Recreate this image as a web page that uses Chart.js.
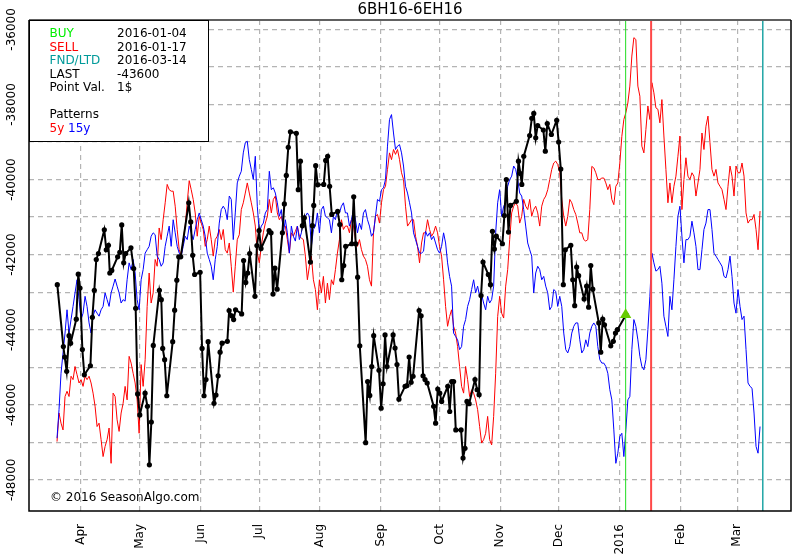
<!DOCTYPE html>
<html>
<head>
<meta charset="utf-8">
<title>6BH16-6EH16</title>
<script src="https://cdn.jsdelivr.net/npm/chart.js@4.4.1/dist/chart.umd.min.js"></script>
<style>
    html, body { margin: 0; padding: 0; background: #ffffff; }
    #seasonChart { display: block; }
</style>
</head>
<body>
<canvas id="seasonChart" width="800" height="557"></canvas>
<script>
// x values are days counted from 2015-04-01
const monthTickDays = [0, 30, 61, 91, 122, 153, 183, 214, 244, 275, 306, 335];
const monthTickLabels = ['Apr', 'May', 'Jun', 'Jul', 'Aug', 'Sep', 'Oct', 'Nov', 'Dec', '2016', 'Feb', 'Mar'];
const yGridValues = [-48000, -47000, -46000, -45000, -44000, -43000, -42000, -41000, -40000, -39000, -38000, -37000, -36000];

// Spread (black, daily closes)
const spreadDays = [
    -12.1, -9.0, -8.3, -7.3, -6.1, -5.3, -2.4, -1.4, -0.5, 0.7,
    1.7, 4.8, 5.8, 6.8, 7.8, 8.9, 11.9, 12.9, 14.0, 14.7,
    15.7, 18.7, 19.8, 20.8, 21.8, 22.8, 25.5, 26.9, 27.9, 28.9,
    30.0, 32.7, 33.9, 34.9, 35.9, 36.9, 40.0, 41.0, 41.7, 42.7,
    43.8, 46.8, 47.8, 48.9, 49.9, 50.9, 55.0, 56.0, 57.0, 58.0,
    60.8, 61.8, 62.8, 63.8, 64.9, 67.9, 68.9, 70.0, 71.0, 72.0,
    74.7, 75.6, 76.9, 77.9, 78.9, 82.0, 83.0, 84.1, 85.1, 86.1,
    88.8, 89.8, 90.9, 91.9, 96.0, 97.0, 98.0, 99.0, 100.1, 102.8,
    103.8, 104.8, 105.8, 106.9, 109.9, 110.9, 112.0, 113.0, 114.0, 117.1,
    118.1, 118.8, 119.8, 120.8, 123.9, 124.9, 125.9, 126.9, 128.0, 131.0,
    132.1, 133.1, 134.1, 135.1, 138.2, 139.2, 140.2, 141.2, 142.3, 145.3,
    146.3, 147.4, 148.4, 149.4, 152.1, 153.2, 154.2, 155.2, 156.2, 159.3,
    160.3, 161.3, 162.3, 165.4, 166.4, 167.5, 168.5, 169.5, 172.6, 173.6,
    174.6, 175.6, 176.7, 180.0, 181.0, 182.1, 183.1, 184.1, 187.2, 188.2,
    189.2, 190.2, 191.3, 194.0, 195.0, 196.0, 197.0, 198.1, 201.1, 202.2,
    203.2, 204.2, 205.2, 207.9, 209.0, 210.0, 211.0, 212.0, 215.1, 216.1,
    217.1, 218.2, 219.2, 222.2, 223.3, 224.3, 225.0, 226.0, 229.0, 230.1,
    231.1, 232.1, 233.1, 236.0, 237.0, 238.0, 240.1, 242.8, 243.8, 244.9,
    246.2, 247.2, 250.0, 251.0, 252.0, 253.0, 254.0, 256.8, 258.1, 259.1,
    260.2, 261.2, 264.3, 265.3, 266.3, 267.2, 270.4, 271.7, 272.8, 273.8,
    278.2
];
const spreadValues = [
    -42800, -44450, -44730, -45110, -44160, -44360, -43720, -42520, -42890, -44530,
    -45200, -44960, -43670, -42950, -42130, -41970, -41340, -41870, -41750, -42490,
    -42420, -42060, -41940, -41210, -42220, -41970, -41820, -42370, -43430, -45710,
    -46270, -45690, -46040, -47600, -46460, -44420, -42950, -43200, -44500, -44800,
    -45760, -44320, -43480, -42680, -42060, -42060, -40620, -41130, -42020, -42530,
    -42470, -44500, -45760, -45330, -44320, -45960, -45740, -45230, -44600, -44360,
    -44310, -43490, -43630, -43730, -43470, -43580, -42160, -42740, -42490, -41970,
    -43110, -41760, -41360, -41840, -41360, -41420, -43050, -42360, -42920, -41420,
    -40650, -39890, -39140, -38730, -38770, -40270, -39510, -41230, -41020, -42200,
    -41230, -40690, -39630, -40140, -40130, -39490, -39380, -40180, -40930, -40850,
    -41200, -42670, -42290, -41780, -41710, -40460, -41710, -42600, -44430, -47010,
    -45380, -45750, -44980, -44160, -45080, -46090, -45440, -44140, -44980, -44140,
    -44490, -44930, -45850, -45510, -45490, -44730, -45400, -45240, -43490, -43630,
    -45230, -45330, -45420, -46040, -46490, -45580, -45690, -45910, -45510, -46180,
    -45380, -45380, -46670, -46670, -47420, -47160, -45910, -45970, -45330, -45600,
    -45730, -43090, -42200, -42530, -42800, -41380, -41850, -41510, -41710, -40960,
    -40000, -41400, -40690, -40580, -39510, -39840, -40130, -39380, -38830, -38370,
    -38240, -38890, -38560, -38680, -39245, -38510, -38800, -38420, -39000, -39720,
    -42800, -41870, -41750, -42670, -43360, -42330, -42560, -43180, -42840, -43400,
    -42290, -42920, -43820, -44600, -43720, -43870, -44430, -44310, -44090, -44000,
    -43600
];

// Seasonal patterns, evenly sampled between these two days
const patternFirstDay = -12.24;
const patternLastDay = 346.6;
const red5y = [
    -46980, -46220, -46490, -46670, -45780, -45640, -45780, -45240, -45330, -44980,
    -45200, -45420, -45330, -45510, -45240, -45330, -45240, -45420, -45690, -46040,
    -46580, -46490, -46930, -47380, -47110, -46930, -46620, -47560, -45690, -45780,
    -46400, -46710, -46220, -45960, -45510, -45870, -44710, -44890, -45160, -45420,
    -45870, -46760, -44930, -45510, -44800, -43380, -42490, -43290, -43020, -42130,
    -42310, -41290, -41600, -41070, -40620, -40130, -40270, -40310, -40310, -40710,
    -41330, -41870, -42040, -41600, -41240, -40620, -40030, -40270, -40530, -40890,
    -41510, -40980, -41160, -41330, -41780, -41600, -41240, -41600, -42040, -41600,
    -41510, -41330, -41600, -41330, -41870, -41960,
    -41690, -42310, -43000, -42310, -41600, -41470, -40800, -40620, -40360, -40090,
    -40360, -40620, -40890, -41240, -41960, -42220, -41780, -41420, -41160, -40980,
    -40530, -40890, -40530, -40440, -40890, -41070, -40980, -41240, -41240, -41600,
    -41960, -41420, -41510, -41380, -41240, -41510, -41560, -41600, -42040, -42670,
    -42310, -42040, -42670, -42930, -43470, -42670, -43020, -42580, -43290, -42760,
    -43200, -42670, -42800, -42400, -41960, -41600, -41070, -41330, -41240, -41240,
    -41420, -41070, -41240, -41600, -41780, -41600, -41870, -42040, -42130, -42310,
    -42670, -42840, -41420, -40980, -40930, -41160, -40620, -40270, -40180, -39730,
    -39290, -39470, -39200, -39330, -39200, -39470, -39820, -40000, -40710, -41240,
    -41160, -41070, -41070, -41510, -41780, -42220, -41690, -41420,
    -41420, -41070, -41330, -41510, -41420, -41240, -41420, -41780, -42040, -42670,
    -43380, -43910, -43650, -43470, -43910, -44090, -44450, -44980, -45510, -45690,
    -44980, -45330, -45780, -45600, -45690, -45870, -46130, -46580, -47020, -46930,
    -46760, -46310, -46930, -47070, -46310, -45160, -43650, -43110, -43560, -43690,
    -42840, -42400, -41600, -40890, -40710, -40620, -40710, -41160, -40980, -40530,
    -40710, -40800, -40530, -40980, -40800, -40710, -40890, -41240, -40710, -40530,
    -40440, -40270, -40000, -39730, -39560, -39510, -39600, -39820, -40530, -40980,
    -41240, -40980, -40530, -40620, -40800, -40930, -41160, -41420, -41420, -41600,
    -41640, -41600, -40800, -39650, -39690, -39820, -40000, -40000, -39960, -39960,
    -40090, -40270, -40130, -40530, -40670, -40180, -40090, -39560, -38850, -38400,
    -38220, -37960, -37510, -36710, -36220, -36270, -37510, -37780, -39110, -39290,
    -38670, -38040, -38400, -37420, -37690, -38090, -38130, -38490, -37870, -38840,
    -39730, -40620, -40090, -40620, -40180, -39910, -39380, -38840, -40800, -40000,
    -39420, -39910, -40000, -39820, -39910, -40440, -40090, -39730, -38760, -39200,
    -38580, -38310, -39020, -39730, -39910, -39730, -40090, -40180, -40270, -40530,
    -40800, -40180, -39640, -39910, -40440, -39640, -39820, -39820, -39560, -39910,
    -40890, -41160, -41070, -41070, -40930, -41330, -41870, -40840
];
const blue15y = [
    -46890, -46130, -45160, -44620, -44090, -43470, -44090, -43730, -43380, -43020,
    -42670, -43200, -43730, -43560, -43110, -43380, -43820, -44090, -43640, -43470,
    -43560, -43640, -43470, -43380, -43020, -43200, -43380, -43020, -42840, -42650,
    -42840, -43020, -43290, -43200, -43240, -42670, -42220, -42400, -42130, -42490,
    -43200, -43470, -42670, -42400, -41960, -41870, -41780, -41510, -41420, -41470,
    -42040, -42130, -42310, -42220, -41780, -41510, -41240, -41780, -41070, -41420,
    -41780, -41960, -42040, -41780, -41510, -41600, -41240, -41420, -41600, -41330,
    -41070, -40890, -41070, -41240, -41510, -41960, -42130, -42310, -42670, -42130,
    -41780, -41160, -40800, -40710, -40800, -41070,
    -40440, -40530, -41600, -40890, -40090, -39910, -39780, -39290, -39020, -38980,
    -39470, -39730, -40000, -39380, -40710, -41420, -41240, -41160, -40890, -40800,
    -39780, -40270, -40220, -40360, -40620, -40980, -40800, -41420, -41070, -41420,
    -41960, -41240, -41510, -41640, -41240, -41600, -41420, -41070, -40980, -40890,
    -40980, -41780, -41330, -41240, -40890, -41420, -40800, -40710, -40980, -41020,
    -41070, -41420, -40980, -41070, -40800, -40890, -40710, -40620, -40890, -40890,
    -41240, -41070, -40800, -41070, -41420, -41160, -41330, -40890, -40800, -41070,
    -41240, -41510, -41420, -40980, -40530, -40580, -40270, -40220, -40000, -39110,
    -38400, -38270, -38760, -39200, -39110, -39070, -39290, -39640, -40180, -40360,
    -40620, -40890, -41420, -41600, -41780, -41960, -41960, -41910,
    -41380, -41510, -41420, -41600, -41510, -41690, -41870, -41960, -41780, -41420,
    -41690, -42220, -42580, -42840, -44090, -44180, -44270, -44530, -44450, -43910,
    -43730, -43380, -43200, -42930, -42670, -43020, -42840, -43110, -43070, -43290,
    -43470, -43110, -43290, -43200, -42840, -41420, -40620, -40270, -40980, -40710,
    -40620, -40180, -40000, -39910, -39640, -39730, -40000, -40360, -40440, -40800,
    -41240, -41690, -41870, -42040, -43020, -42490, -42310, -42400, -42670, -42580,
    -42840, -43020, -43470, -43380, -42930, -42980, -43380, -43110, -43380, -44090,
    -44530, -44620, -44450, -44090, -43910, -43820, -43820, -44270, -44620, -44530,
    -44270, -44450, -44090, -43910, -43820, -43910, -44450, -44800, -44890,
    -44890, -44980, -45160, -45600, -45870, -46670, -47560, -47290, -46840, -46760,
    -47380, -46670, -45870, -45780, -44530, -43730, -43910, -44270, -44710, -44980,
    -45070, -44800, -44000, -43110, -41960, -42220, -42440, -42400, -42310, -42760,
    -43640, -43910, -44180, -43110, -43470, -42670, -41780, -40980, -40710, -41510,
    -42220, -41600, -41600, -41510, -41110, -41420, -41780, -42400, -42400, -41870,
    -41330, -41160, -40800, -40800, -41330, -41960, -42040, -42130, -42220, -42310,
    -42580, -42620, -42400, -42040, -42580, -43290, -43560, -42930, -43380, -43730,
    -43640, -44530, -45420, -45510, -45560, -46220, -47110, -47290, -46580
];

// Trade markers
const buyDay = 278;    // 2016-01-04
const sellDay = 291;   // 2016-01-17
const fndDay = 348;    // 2016-03-14
const lastValue = -43600;

const infoLabels = ['BUY', 'SELL', 'FND/LTD', 'LAST', 'Point Val.'];
const infoValues = ['2016-01-04', '2016-01-17', '2016-03-14', '-43600', '1$'];
const infoColors = ['#00ee00', '#ff0000', '#009a9a', '#000000', '#000000'];

document.addEventListener('DOMContentLoaded', function() {
    const FONT = "'DejaVu Sans', Verdana, sans-serif";

    function patternPoints(values) {
        const step = (patternLastDay - patternFirstDay) / (values.length - 1);
        return values.map((v, i) => ({ x: patternFirstDay + i * step, y: v }));
    }

    const spreadPoints = spreadDays.map((d, i) => ({ x: d, y: spreadValues[i] }));

    // Chart.js paints datasets from last to first, so the spread is index 1
    // and the BUY triangle (index 0) ends up on top of everything.
    const SPREAD_INDEX = 1;

    // Vertical BUY / SELL / FND lines, drawn right after the spread line
    const markerLines = {
        id: 'markerLines',
        afterDatasetDraw(chart, args) {
            if (args.index !== SPREAD_INDEX) return;
            const { ctx, chartArea, scales } = chart;
            const lines = [
                { day: buyDay, color: '#22dd22', width: 1 },
                { day: sellDay, color: '#ff4848', width: 2 },
                { day: fndDay, color: '#20a5a5', width: 1.5 }
            ];
            ctx.save();
            lines.forEach(l => {
                const x = scales.x.getPixelForValue(l.day);
                ctx.strokeStyle = l.color;
                ctx.lineWidth = l.width;
                ctx.beginPath();
                ctx.moveTo(x, chartArea.top);
                ctx.lineTo(x, chartArea.bottom);
                ctx.stroke();
            });
            ctx.restore();
        }
    };

    // Frame, info box and copyright
    const decorations = {
        id: 'decorations',
        afterDraw(chart) {
            const { ctx, chartArea } = chart;
            const { left, right, top, bottom } = chartArea;
            ctx.save();

            ctx.lineWidth = 2;
            ctx.strokeStyle = '#606060';
            ctx.beginPath();
            ctx.moveTo(left, top);
            ctx.lineTo(right, top);
            ctx.stroke();

            ctx.lineWidth = 1.5;
            ctx.strokeStyle = '#000000';
            ctx.beginPath();
            ctx.moveTo(left, top);
            ctx.lineTo(left, bottom);
            ctx.lineTo(right, bottom);
            ctx.lineTo(right, top);
            ctx.stroke();

            // Info box
            ctx.fillStyle = '#ffffff';
            ctx.fillRect(left, top, 179, 121);
            ctx.lineWidth = 1;
            ctx.strokeStyle = '#000000';
            ctx.strokeRect(left + 0.5, top + 0.5, 179, 121);

            ctx.font = '12px ' + FONT;
            ctx.textBaseline = 'middle';
            ctx.textAlign = 'left';
            infoLabels.forEach((label, i) => {
                const y = 34 + i * 13.5;
                ctx.fillStyle = infoColors[i];
                ctx.fillText(label, 49.5, y);
                ctx.fillStyle = '#000000';
                ctx.fillText(infoValues[i], 117, y);
            });
            ctx.fillStyle = '#000000';
            ctx.fillText('Patterns', 49.5, 115);
            ctx.fillStyle = '#ff0000';
            ctx.fillText('5y', 49.5, 128.5);
            const w = ctx.measureText('5y ').width;
            ctx.fillStyle = '#0000ff';
            ctx.fillText('15y', 49.5 + w, 128.5);

            ctx.fillStyle = '#000000';
            ctx.fillText('\u00a9 2016 SeasonAlgo.com', 50, 498);
            ctx.restore();
        }
    };

    const ctx = document.getElementById('seasonChart');
    new Chart(ctx, {
        type: 'line',
        data: {
            datasets: [{
                label: 'BUY',
                data: [{ x: buyDay, y: lastValue }],
                showLine: false,
                pointStyle: 'triangle',
                pointRadius: 6.5,
                pointBorderWidth: 0,
                pointBackgroundColor: '#66cc00'
            }, {
                label: '6BH16-6EH16',
                data: spreadPoints,
                borderColor: '#000000',
                borderWidth: 2,
                pointRadius: 2.6,
                pointBorderWidth: 0,
                pointBackgroundColor: '#000000',
                tension: 0
            }, {
                label: '15y',
                data: patternPoints(blue15y),
                borderColor: '#0000ff',
                borderWidth: 1,
                pointRadius: 0,
                tension: 0
            }, {
                label: '5y',
                data: patternPoints(red5y),
                borderColor: '#ff0000',
                borderWidth: 1,
                pointRadius: 0,
                tension: 0
            }]
        },
        options: {
            responsive: false,
            animation: false,
            events: [],
            layout: { padding: { top: 0, right: 9, bottom: 0, left: 0 } },
            plugins: {
                legend: { display: false },
                tooltip: { enabled: false },
                title: {
                    display: true,
                    fullSize: false,
                    text: '6BH16-6EH16',
                    color: '#000000',
                    font: { family: FONT, size: 15, weight: 'normal', lineHeight: 1.2 },
                    padding: { top: 1, bottom: 1 }
                }
            },
            scales: {
                x: {
                    type: 'linear',
                    min: -26.54,
                    max: 362.4,
                    afterBuildTicks: scale => {
                        scale.ticks = monthTickDays.map(v => ({ value: v }));
                    },
                    afterFit: scale => { scale.height = 46; },
                    ticks: {
                        autoSkip: false,
                        minRotation: 90,
                        maxRotation: 90,
                        padding: 13,
                        color: '#000000',
                        font: { family: FONT, size: 12 },
                        callback: (value, index) => monthTickLabels[index]
                    },
                    grid: { color: '#b4b4b4', lineWidth: 1.2, drawTicks: false },
                    border: { display: false, dash: [5, 4] }
                },
                y: {
                    type: 'linear',
                    min: -48830,
                    max: -35750,
                    afterBuildTicks: scale => {
                        scale.ticks = yGridValues.map(v => ({ value: v }));
                    },
                    afterFit: scale => { scale.width = 29; },
                    ticks: {
                        autoSkip: false,
                        minRotation: 90,
                        crossAlign: 'center',
                        padding: -4,
                        color: '#000000',
                        font: { family: FONT, size: 12 },
                        callback: value => (value % 2000 === 0 ? String(value) : '')
                    },
                    grid: { color: '#b4b4b4', lineWidth: 1.2, drawTicks: false },
                    border: { display: false, dash: [5, 4] }
                }
            }
        },
        plugins: [markerLines, decorations]
    });
});
</script>
</body>
</html>
